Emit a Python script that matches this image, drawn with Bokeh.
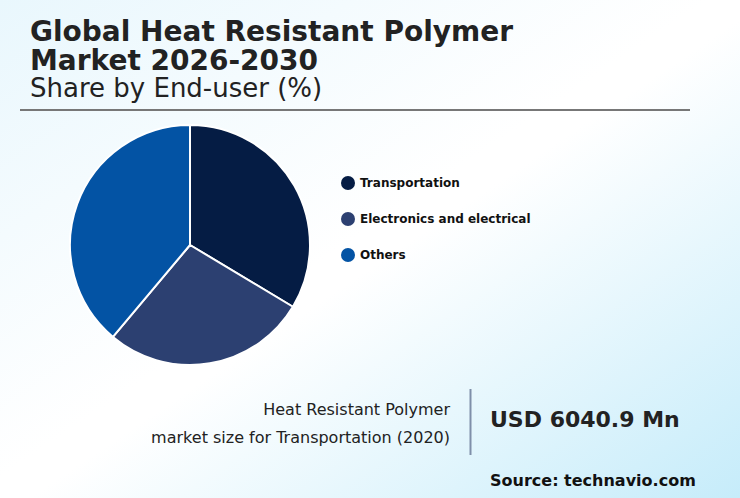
from bokeh.plotting import figure
from bokeh.embed import file_html
from bokeh.resources import INLINE
from bokeh.core.properties import value
from bokeh.models import ColumnDataSource
import numpy as np

categories = ["Transportation", "Electronics and electrical", "Others"]
shares = [33.6, 27.5, 38.9]
colors = ["#051c44", "#2c4071", "#0353a4"]
title_lines = ["Global Heat Resistant Polymer", "Market 2026-2030"]
subtitle = "Share by End-user (%)"
callout_lines = ["Heat Resistant Polymer", "market size for Transportation (2020)"]
callout_value = "USD 6040.9 Mn"
source_text = "Source: technavio.com"

W, H = 741, 499
p = figure(width=W, height=H, x_range=(-0.5, W - 0.5), y_range=(H - 0.5, -0.5), output_backend="svg",
           toolbar_location=None, min_border=0, outline_line_color=None, border_fill_color=None,
           background_fill_color=None)
p.axis.visible = False
p.grid.visible = False
p.styles = {"position": "absolute", "left": "-1px", "top": "-1px",
            "background": "linear-gradient(to bottom right, #e9f7fd 0%, #ffffff 48%, #ffffff 52%, #c6ecfa 100%)"}

fr = np.array(shares) / sum(shares) * 2 * np.pi
cum = np.concatenate([[0], np.cumsum(fr)])
src = ColumnDataSource(dict(start=np.pi / 2 - cum[:-1] - fr, end=np.pi / 2 - cum[:-1], color=colors))
p.wedge(x=190, y=245, radius=120, radius_units="data", start_angle="start", end_angle="end",
        direction="anticlock", fill_color="color", line_color="white", line_width=2, source=src)

font = value("DejaVu Sans")
ink = "#222222"
p.line([20, 690], [110, 110], line_color="#777777", line_width=2)
p.line([470.5, 470.5], [389, 455], line_color="#7f8fa9", line_width=2)

p.text(x=[30, 30], y=[31, 60], text=title_lines, text_font=font, text_font_size="28px",
       text_font_style="bold", text_color=ink, text_baseline="middle")
p.text(x=[30], y=[88], text=[subtitle], text_font=font, text_font_size="26px", text_color=ink,
       text_baseline="middle")

ys = [183, 219, 255]
p.scatter(x=[348] * 3, y=ys, size=14, fill_color=colors, line_color=None)
p.text(x=[360] * 3, y=ys, text=categories, text_font=font, text_font_size="12px", text_font_style="bold",
       text_color="#111111", text_baseline="middle")

p.text(x=[450, 450], y=[409, 437], text=callout_lines, text_font=font, text_font_size="16px",
       text_color=ink, text_align="right", text_baseline="middle")
p.text(x=[490], y=[419], text=[callout_value], text_font=font, text_font_size="22px", text_font_style="bold",
       text_color=ink, text_baseline="middle")
p.text(x=[490], y=[480], text=[source_text], text_font=font, text_font_size="16px", text_font_style="bold",
       text_color="#111111", text_baseline="middle")

open("out.html", "w").write(file_html(p, INLINE))
